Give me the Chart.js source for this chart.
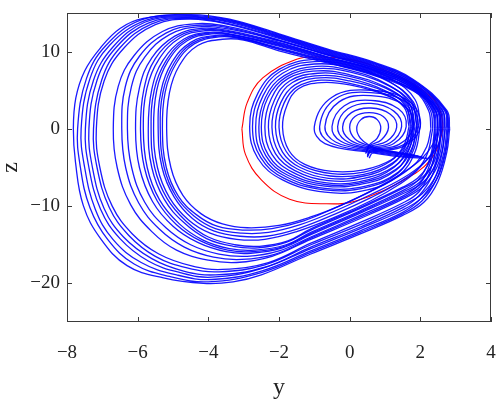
<!DOCTYPE html>
<html>
<head>
<meta charset="utf-8">
<script src="https://cdn.jsdelivr.net/npm/chart.js@4.4.0/dist/chart.umd.min.js"></script>
<style>
  html, body { margin: 0; padding: 0; background: #fff; }
  #wrap { width: 503px; height: 404px; }
</style>
</head>
<body>
<div id="wrap"><canvas id="attractor" width="503" height="404"></canvas></div>
<script>
// axis ticks (y horizontal, z vertical)
const yTicks = [-8, -6, -4, -2, 0, 2, 4];
const zTicks = [-20, -10, 0, 10];

// outer big loops as [y, z] pairs
const outerLoops = [
  [[2.83,0],[2.75,2.4],[1.8,6.4],[0.7,8.6],[-0.6,10.3],[-2.0,12.3],[-3.4,14.2],[-4.5,14.8],[-5.84,14.3],[-6.5,13],[-7.05,10.5],[-7.5,7.5],[-7.75,4],[-7.82,0],[-7.76,-4.3],[-7.54,-9.9],[-7.05,-14.2],[-6.3,-17.7],[-5.27,-19.3],[-4.14,-20],[-3.3,-19.8],[-2.5,-18.9],[-1.1,-16.2],[0.3,-13.6],[1.5,-11.2],[2.1,-9.5],[2.5,-6.8],[2.75,-3.0],[2.83,0]],
  [[2.78,0],[2.7,2.5],[1.8,6.3],[0.7,8.5],[-0.6,10.2],[-2.0,12.2],[-3.4,14.1],[-4.6,14.7],[-5.9,14.1],[-6.9,10.8],[-7.45,6.5],[-7.70,0],[-7.62,-5],[-7.35,-10.2],[-6.85,-14.3],[-6.1,-17.5],[-5.1,-19.1],[-4.0,-19.8],[-2.5,-18.6],[-1.1,-16.0],[0.3,-13.4],[1.5,-11.0],[2.05,-9.3],[2.45,-6.6],[2.7,-3.0],[2.78,0]],
  [[2.7,0],[2.62,2.5],[1.8,6.2],[0.7,8.4],[-0.6,10.1],[-2.0,12.1],[-3.4,14.0],[-4.7,14.6],[-5.8,14.0],[-6.8,10.8],[-7.35,6.5],[-7.60,0],[-7.5,-5],[-7.2,-10.4],[-6.7,-14.3],[-5.9,-17.3],[-4.9,-18.9],[-3.9,-19.5],[-2.5,-18.4],[-1.1,-15.8],[0.3,-13.2],[1.5,-10.8],[2.0,-9.1],[2.4,-6.5],[2.62,-3.0],[2.7,0]],
  [[2.8,0],[2.72,2.4],[1.8,6.1],[0.7,8.3],[-0.6,10.0],[-2.0,12.0],[-3.4,13.9],[-4.7,14.5],[-5.8,13.8],[-6.7,10.6],[-7.25,6.3],[-7.48,0],[-7.38,-5],[-7.05,-10.4],[-6.5,-14.2],[-5.7,-17.1],[-4.8,-18.6],[-3.9,-19.2],[-2.5,-18.1],[-1.1,-15.5],[0.3,-12.9],[1.5,-10.5],[2.05,-8.9],[2.48,-6.4],[2.72,-3.0],[2.8,0]],
  [[2.6,0],[2.52,2.4],[1.8,6.0],[0.7,8.2],[-0.6,9.9],[-2.0,11.9],[-3.4,13.8],[-4.6,14.4],[-5.7,13.7],[-6.6,10.6],[-7.15,6.3],[-7.38,0],[-7.28,-5],[-6.95,-10.3],[-6.4,-14.0],[-5.6,-16.8],[-4.7,-18.4],[-3.8,-18.9],[-2.4,-17.9],[-1.1,-15.3],[0.3,-12.7],[1.5,-10.2],[1.95,-8.7],[2.32,-6.2],[2.52,-3.0],[2.6,0]],
  [[2.75,0],[2.68,2.4],[1.8,5.9],[0.7,8.1],[-0.6,9.8],[-2.0,11.8],[-3.4,13.6],[-4.6,14.3],[-5.6,13.6],[-6.5,10.5],[-7.02,6.3],[-7.25,0],[-7.15,-5],[-6.8,-10.2],[-6.25,-13.8],[-5.5,-16.5],[-4.6,-18.0],[-3.7,-18.5],[-2.4,-17.6],[-1.1,-15.0],[0.3,-12.4],[1.5,-9.9],[2.05,-8.4],[2.45,-6.0],[2.67,-3.0],[2.75,0]],
  [[2.5,0],[2.42,2.4],[1.8,5.8],[0.7,8.0],[-0.6,9.7],[-2.0,11.7],[-3.4,13.5],[-4.5,14.2],[-5.5,13.5],[-6.4,10.4],[-6.95,6.2],[-7.17,0],[-7.07,-5],[-6.72,-10.0],[-6.15,-13.6],[-5.4,-16.2],[-4.5,-17.7],[-3.6,-18.2],[-2.3,-17.3],[-1.1,-14.8],[0.3,-12.1],[1.5,-9.6],[1.95,-8.2],[2.25,-5.8],[2.42,-2.9],[2.5,0]]
];

// inner big loops (the C-shaped band)
const innerLoops = [
  [[2.7,0],[2.62,2.4],[1.8,5.7],[0.7,7.9],[-0.6,9.6],[-2.0,11.5],[-3.4,13.2],[-4.4,13.6],[-5.3,12.6],[-6.1,9.5],[-6.55,5.5],[-6.69,0],[-6.58,-5],[-6.2,-9.8],[-5.6,-13.3],[-4.9,-15.7],[-4.0,-17.0],[-3.2,-17.3],[-2.2,-16.5],[-1.1,-14.3],[0.3,-11.6],[1.5,-9.1],[2.05,-7.6],[2.42,-5.4],[2.62,-2.8],[2.7,0]],
  [[2.58,0],[2.5,2.4],[1.8,5.65],[0.7,7.85],[-0.6,9.55],[-2.0,11.45],[-3.4,13.05],[-4.35,13.4],[-5.2,12.4],[-5.95,9.4],[-6.35,5.45],[-6.45,0],[-6.34,-5],[-5.97,-9.6],[-5.38,-13.0],[-4.68,-15.3],[-3.85,-16.6],[-3.05,-16.9],[-2.1,-16.2],[-1.1,-14.15],[0.3,-11.4],[1.5,-8.9],[2.0,-7.45],[2.35,-5.3],[2.52,-2.75],[2.58,0]],
  [[2.45,0],[2.38,2.4],[1.8,5.6],[0.7,7.8],[-0.6,9.5],[-2.0,11.4],[-3.4,12.9],[-4.3,13.2],[-5.1,12.2],[-5.8,9.3],[-6.18,5.4],[-6.29,0],[-6.17,-5],[-5.8,-9.5],[-5.2,-12.8],[-4.5,-15.0],[-3.7,-16.2],[-2.9,-16.5],[-2.0,-15.8],[-1.1,-14.0],[0.3,-11.2],[1.5,-8.7],[1.95,-7.3],[2.22,-5.2],[2.38,-2.8],[2.45,0]],
  [[2.65,0],[2.58,2.4],[1.8,5.5],[0.7,7.7],[-0.6,9.3],[-2.0,11.2],[-3.4,12.7],[-4.2,13.0],[-4.95,12.0],[-5.6,9.2],[-5.95,5.3],[-6.06,0],[-5.95,-5],[-5.58,-9.4],[-5.0,-12.6],[-4.3,-14.7],[-3.5,-15.9],[-2.8,-16.1],[-1.9,-15.4],[-1.1,-13.7],[0.3,-10.9],[1.5,-8.4],[2.05,-7.0],[2.4,-5.0],[2.58,-2.7],[2.65,0]],
  [[2.5,0],[2.43,2.4],[1.8,5.45],[0.7,7.65],[-0.6,9.25],[-2.0,11.1],[-3.4,12.6],[-4.15,12.85],[-4.88,11.9],[-5.5,9.1],[-5.82,5.2],[-5.92,0],[-5.81,-5],[-5.45,-9.3],[-4.9,-12.4],[-4.22,-14.5],[-3.45,-15.7],[-2.75,-15.9],[-1.85,-15.2],[-1.1,-13.55],[0.3,-10.75],[1.5,-8.2],[1.98,-6.9],[2.3,-4.95],[2.44,-2.7],[2.5,0]],
  [[2.4,0],[2.33,2.4],[1.8,5.4],[0.7,7.6],[-0.6,9.2],[-2.0,11.0],[-3.4,12.5],[-4.1,12.7],[-4.8,11.8],[-5.4,9.0],[-5.74,5.2],[-5.84,0],[-5.73,-5],[-5.38,-9.2],[-4.82,-12.3],[-4.15,-14.4],[-3.4,-15.5],[-2.7,-15.7],[-1.8,-15.0],[-1.1,-13.4],[0.3,-10.6],[1.5,-8.0],[1.9,-6.8],[2.18,-4.9],[2.33,-2.7],[2.4,0]],
  [[2.58,0],[2.5,2.4],[1.8,5.3],[0.7,7.5],[-0.6,9.1],[-2.0,10.9],[-3.4,12.3],[-4.0,12.5],[-4.7,11.6],[-5.28,8.9],[-5.6,5.1],[-5.70,0],[-5.6,-5],[-5.25,-9.1],[-4.7,-12.1],[-4.05,-14.2],[-3.3,-15.2],[-2.6,-15.4],[-1.8,-14.7],[-1.1,-13.1],[0.3,-10.3],[1.5,-7.7],[2.0,-6.5],[2.34,-4.7],[2.5,-2.6],[2.58,0]],
  [[2.42,0],[2.35,2.4],[1.8,5.25],[0.7,7.4],[-0.6,9.0],[-2.0,10.8],[-3.35,12.2],[-3.95,12.4],[-4.65,11.5],[-5.2,8.8],[-5.53,5.05],[-5.62,0],[-5.52,-5],[-5.17,-9.0],[-4.63,-11.95],[-4.0,-14.0],[-3.25,-15.0],[-2.55,-15.2],[-1.75,-14.5],[-1.1,-12.95],[0.3,-10.15],[1.5,-7.55],[1.92,-6.4],[2.22,-4.65],[2.36,-2.6],[2.42,0]],
  [[2.35,0],[2.28,2.4],[1.8,5.2],[0.7,7.3],[-0.6,8.9],[-2.0,10.7],[-3.3,12.1],[-3.9,12.3],[-4.6,11.4],[-5.15,8.7],[-5.46,5.0],[-5.55,0],[-5.44,-5],[-5.1,-8.9],[-4.56,-11.8],[-3.95,-13.5],[-3.2,-14.3],[-2.4,-14.3],[-1.5,-13.3],[-0.4,-11.4],[0.6,-9.3],[1.4,-7.2],[1.9,-5.4],[2.2,-3.2],[2.35,0]],
  [[2.55,0],[2.47,2.4],[1.8,5.1],[0.7,7.2],[-0.6,8.8],[-2.0,10.5],[-3.2,11.9],[-3.8,12.1],[-4.5,11.2],[-5.03,8.6],[-5.34,4.9],[-5.42,0],[-5.31,-5],[-4.97,-8.8],[-4.45,-11.6],[-3.85,-13.2],[-3.1,-13.9],[-2.35,-13.9],[-1.45,-12.9],[-0.4,-11.0],[0.6,-8.9],[1.45,-6.8],[2.0,-4.9],[2.38,-2.7],[2.55,0]],
  [[2.62,0],[2.55,2.4],[1.8,5.05],[0.7,7.1],[-0.6,8.7],[-2.0,10.4],[-3.15,11.8],[-3.75,12.0],[-4.45,11.1],[-4.97,8.5],[-5.28,4.85],[-5.36,0],[-5.25,-5],[-4.91,-8.75],[-4.4,-11.3],[-3.8,-12.9],[-3.05,-13.5],[-2.3,-13.4],[-1.4,-12.4],[-0.4,-10.6],[0.6,-8.5],[1.5,-6.4],[2.1,-4.4],[2.48,-2.3],[2.62,0]],
  [[2.3,0],[2.23,2.4],[1.8,5.0],[0.7,7.0],[-0.6,8.6],[-2.0,10.3],[-3.1,11.7],[-3.7,11.9],[-4.4,11.0],[-4.92,8.4],[-5.22,4.8],[-5.30,0],[-5.19,-5],[-4.85,-8.7],[-4.34,-11.1],[-3.75,-12.6],[-3.0,-13.1],[-2.2,-12.9],[-1.3,-11.9],[-0.4,-10.2],[0.6,-8.1],[1.4,-6.1],[1.9,-4.3],[2.18,-2.3],[2.3,0]],
  [[2.5,0],[2.42,2.4],[1.8,4.9],[0.7,6.9],[-0.6,8.5],[-2.0,10.1],[-3.0,11.5],[-3.6,11.6],[-4.3,10.8],[-4.82,8.2],[-5.1,4.7],[-5.18,0],[-5.06,-5],[-4.72,-8.6],[-4.2,-11.0],[-3.6,-12.3],[-2.9,-12.8],[-2.0,-12.5],[-1.1,-11.4],[-0.2,-9.8],[0.7,-7.8],[1.5,-5.7],[2.05,-3.8],[2.38,-1.8],[2.5,0]]
];

// middle loops inside the red orbit
const midLoops = [
  [[2.0,0.5],[1.85,3.8],[1.2,6.4],[0.1,8.4],[-1.0,9.0],[-2.0,7.7],[-2.6,4.6],[-2.83,0.3],[-2.6,-3.8],[-1.9,-6.6],[-0.7,-8.2],[0.5,-7.9],[1.4,-6.0],[1.85,-3.0],[2.0,0.5]],
  [[1.9,0.5],[1.75,3.6],[1.1,6.2],[0.1,8.1],[-1.0,8.7],[-1.95,7.5],[-2.52,4.5],[-2.75,0.3],[-2.52,-3.7],[-1.85,-6.4],[-0.7,-7.9],[0.45,-7.6],[1.35,-5.8],[1.75,-2.9],[1.9,0.5]],
  [[1.95,0.4],[1.8,3.5],[1.15,6.0],[0.1,7.8],[-1.0,8.4],[-1.9,7.2],[-2.45,4.3],[-2.66,0.2],[-2.45,-3.6],[-1.8,-6.2],[-0.7,-7.7],[0.45,-7.4],[1.38,-5.6],[1.8,-2.8],[1.95,0.4]],
  [[1.82,0.4],[1.68,3.4],[1.05,5.8],[0.05,7.5],[-0.95,8.1],[-1.85,6.9],[-2.38,4.1],[-2.57,0.2],[-2.37,-3.5],[-1.75,-6.0],[-0.7,-7.4],[0.4,-7.1],[1.3,-5.4],[1.68,-2.7],[1.82,0.4]],
  [[1.9,0.4],[1.75,3.3],[1.1,5.6],[0.05,7.3],[-0.95,7.8],[-1.8,6.7],[-2.32,4.0],[-2.5,0.2],[-2.3,-3.4],[-1.7,-5.8],[-0.7,-7.2],[0.4,-6.9],[1.32,-5.2],[1.75,-2.6],[1.9,0.4]],
  [[1.78,0.4],[1.64,3.2],[1.02,5.4],[0.0,7.0],[-0.9,7.5],[-1.75,6.5],[-2.22,3.9],[-2.4,0.2],[-2.2,-3.3],[-1.62,-5.6],[-0.65,-7.0],[0.4,-6.7],[1.25,-5.0],[1.64,-2.5],[1.78,0.4]],
  [[1.85,0.3],[1.7,3.1],[1.05,5.2],[0.0,6.8],[-0.9,7.2],[-1.7,6.2],[-2.13,3.7],[-2.3,0.2],[-2.1,-3.2],[-1.55,-5.4],[-0.6,-6.7],[0.4,-6.4],[1.28,-4.8],[1.7,-2.4],[1.85,0.3]],
  [[1.72,0.3],[1.58,3.0],[0.98,5.0],[0.0,6.5],[-0.85,6.9],[-1.62,6.0],[-2.04,3.6],[-2.2,0.2],[-2.0,-3.1],[-1.48,-5.2],[-0.6,-6.4],[0.4,-6.1],[1.2,-4.6],[1.58,-2.3],[1.72,0.3]],
  [[1.8,0.3],[1.65,2.9],[1.02,4.8],[0.0,6.2],[-0.85,6.6],[-1.55,5.7],[-1.95,3.4],[-2.1,0.2],[-1.9,-3.0],[-1.4,-5.0],[-0.55,-6.1],[0.4,-5.9],[1.22,-4.4],[1.65,-2.2],[1.8,0.3]],
  [[1.68,0.3],[1.54,2.8],[0.95,4.6],[0.0,5.9],[-0.8,6.3],[-1.5,5.4],[-1.86,3.3],[-2.0,0.2],[-1.8,-2.9],[-1.33,-4.8],[-0.5,-5.8],[0.4,-5.6],[1.15,-4.2],[1.54,-2.1],[1.68,0.3]],
  [[1.75,0.3],[1.6,2.7],[1.0,4.4],[0.0,5.7],[-0.8,6.0],[-1.45,5.2],[-1.77,3.1],[-1.9,0.2],[-1.72,-2.8],[-1.27,-4.6],[-0.5,-5.5],[0.4,-5.3],[1.18,-4.0],[1.6,-2.0],[1.75,0.3]]
];

// small teardrop loops round the centre, crossing at the bottom
const smallLoops = [
  [[0.5,-2.8],[0.55,-2.1],[0.78,-1.2],[0.88,0.1],[0.78,1.2],[0.55,1.6],[0.32,1.2],[0.2,0.1],[0.3,-1.2],[0.55,-2.1],[0.85,-2.6],[1.4,-3.1]],
  [[0.48,-2.9],[0.55,-2.2],[0.9,-1.4],[1.1,0.2],[0.95,1.6],[0.55,2.1],[0.15,1.6],[0.0,0.2],[0.15,-1.3],[0.55,-2.2],[0.95,-2.75],[1.6,-3.2]],
  [[0.46,-3.05],[0.55,-2.35],[1.05,-1.6],[1.33,0.2],[1.15,1.9],[0.6,2.7],[0.05,2.1],[-0.2,0.2],[0.0,-1.4],[0.55,-2.35],[1.05,-2.9],[1.75,-3.3]],
  [[0.45,-3.2],[0.55,-2.5],[1.15,-1.8],[1.47,0.3],[1.25,2.3],[0.6,3.3],[-0.05,2.6],[-0.34,0.3],[-0.12,-1.5],[0.55,-2.5],[1.15,-3.0],[1.85,-3.4]],
  [[0.5,-3.35],[0.6,-2.65],[1.25,-1.9],[1.6,0.3],[1.38,2.6],[0.6,3.7],[-0.15,3.0],[-0.5,0.3],[-0.25,-1.6],[0.6,-2.65],[1.25,-3.15],[1.95,-3.5]],
  [[0.5,-3.5],[0.6,-2.8],[1.4,-2.0],[1.8,0.3],[1.55,3.0],[0.6,4.3],[-0.3,3.5],[-0.7,0.3],[-0.4,-1.7],[0.6,-2.8],[1.3,-3.3],[2.05,-3.6]],
  [[0.5,-3.65],[0.6,-2.95],[1.5,-2.1],[1.93,0.3],[1.65,3.3],[0.6,4.7],[-0.4,3.9],[-0.85,0.3],[-0.55,-1.8],[0.6,-2.95],[1.35,-3.45],[2.1,-3.7]],
  [[0.55,-3.8],[0.65,-3.1],[1.55,-2.2],[2.0,0.3],[1.7,3.5],[0.6,5.0],[-0.5,4.1],[-1.0,0.3],[-0.7,-1.9],[0.65,-3.1],[1.4,-3.6],[2.2,-3.8]]
];

// red periodic orbit
const redOrbit = [[-3.05,0],[-2.9,3.4],[-2.46,6.6],[-1.5,9.0],[-0.9,9.3],[0.0,9.0],[0.65,8.2],[1.5,6.6],[2.07,5.0],[2.46,3.3],[2.62,1.2],[2.6,-0.8],[2.27,-4.1],[1.5,-6.7],[0.2,-9.3],[-0.65,-9.7],[-1.7,-9.1],[-2.5,-6.6],[-2.95,-3.3],[-3.05,0]];

const toXY = pts => pts.map(p => ({ x: p[0], y: p[1] }));
const minus = v => String(v).replace('-', '\u2212');
const serif = '"Liberation Serif", "DejaVu Serif", serif';

// blue trajectory datasets (drawn on top), red orbit underneath
const datasets = [];
[outerLoops, innerLoops, midLoops, smallLoops].forEach(group => {
    group.forEach(loop => {
        datasets.push({
            data: toXY(loop),
            showLine: true,
            borderColor: 'rgba(0,0,255,0.9)',
            borderWidth: 1.3,
            pointRadius: 0,
            tension: 0.4,
            order: 1
        });
    });
});
datasets.push({
    data: toXY(redOrbit),
    showLine: true,
    borderColor: '#ff0000',
    borderWidth: 1.1,
    pointRadius: 0,
    tension: 0.4,
    order: 2
});

// drop the automatic label overflow padding so the plot box sits where it should
const noAutoPad = s => {
    s.paddingTop = 0; s.paddingBottom = 0; s.paddingLeft = 0; s.paddingRight = 0;
};

// box frame with inward ticks on all four sides
const frameTicks = {
    id: 'frameTicks',
    afterDraw(chart) {
        const { ctx, chartArea: a, scales } = chart;
        const sx = scales.x, sy = scales.y;
        ctx.save();
        ctx.strokeStyle = '#3a3a3a';
        ctx.lineWidth = 1;
        ctx.strokeRect(Math.round(a.left) + 0.5, Math.round(a.top) + 0.5,
            Math.round(a.right - a.left) - 1, Math.round(a.bottom - a.top) - 1);
        ctx.beginPath();
        yTicks.forEach(v => {
            const px = Math.round(sx.getPixelForValue(v)) + 0.5;
            ctx.moveTo(px, a.bottom); ctx.lineTo(px, a.bottom - 5);
            ctx.moveTo(px, a.top); ctx.lineTo(px, a.top + 5);
        });
        zTicks.forEach(v => {
            const py = Math.round(sy.getPixelForValue(v)) + 0.5;
            ctx.moveTo(a.left, py); ctx.lineTo(a.left + 5, py);
            ctx.moveTo(a.right, py); ctx.lineTo(a.right - 5, py);
        });
        ctx.stroke();
        ctx.restore();
    }
};

new Chart(document.getElementById('attractor'), {
    type: 'scatter',
    data: { datasets: datasets },
    options: {
        responsive: false,
        animation: false,
        devicePixelRatio: 1,
        layout: { padding: { top: 13, right: 12, left: 0, bottom: 0 } },
        plugins: { legend: { display: false }, tooltip: { enabled: false } },
        scales: {
            x: {
                type: 'linear', min: -8, max: 4,
                afterBuildTicks: s => { s.ticks = yTicks.map(v => ({ value: v })); },
                afterFit: s => { s.height = 82; noAutoPad(s); },
                grid: { display: false, drawTicks: false },
                border: { display: false },
                ticks: { callback: minus, color: '#222', padding: 20, maxRotation: 0, font: { family: serif, size: 19 } },
                title: { display: true, text: 'y', color: '#222', padding: { top: 0, bottom: 2 }, font: { family: serif, size: 24 } }
            },
            y: {
                type: 'linear', min: -25, max: 15,
                afterBuildTicks: s => { s.ticks = zTicks.map(v => ({ value: v })); },
                afterFit: s => { s.width = 67; noAutoPad(s); },
                grid: { display: false, drawTicks: false },
                border: { display: false },
                ticks: { callback: minus, color: '#222', padding: 7, font: { family: serif, size: 19 } },
                title: { display: true, text: 'z', color: '#222', padding: 0, font: { family: serif, size: 24, lineHeight: 0.9 } }
            }
        }
    },
    plugins: [frameTicks]
});
</script>
</body>
</html>
